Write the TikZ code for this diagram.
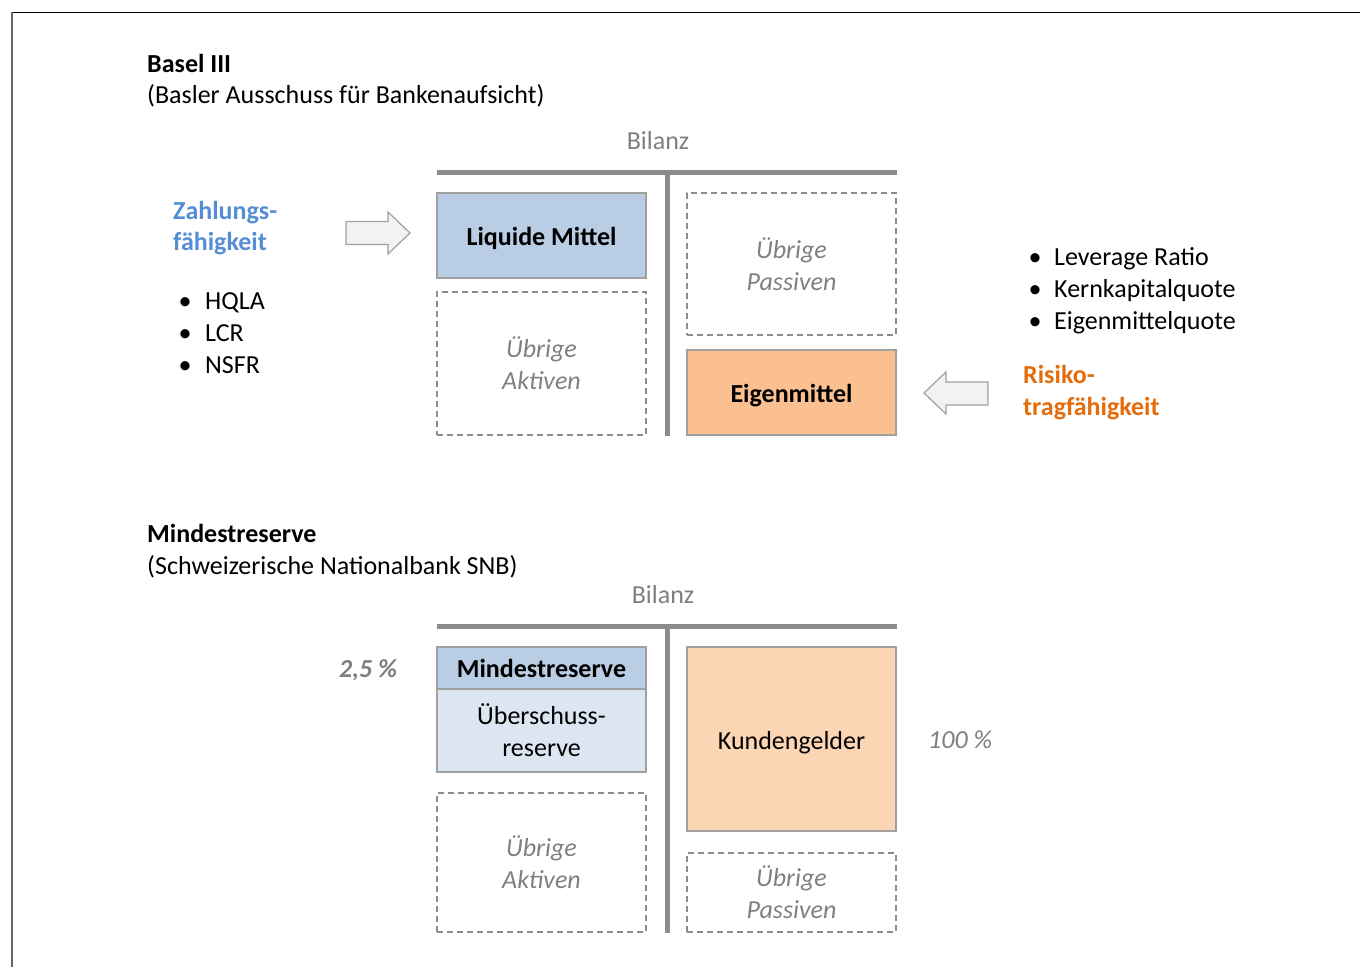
\documentclass[tikz,border=0pt]{standalone}
\usepackage{fontspec}
\setmainfont{Carlito}
\definecolor{bar}{HTML}{8C8C8C}
\definecolor{boxline}{HTML}{A0A0A0}
\definecolor{dash}{HTML}{8C8C8C}
\definecolor{lblue}{HTML}{B9CDE5}
\definecolor{llblue}{HTML}{DCE6F2}
\definecolor{lorange}{HTML}{FAC090}
\definecolor{llorange}{HTML}{FCD5B5}
\definecolor{zblue}{HTML}{558ED5}
\definecolor{zorange}{HTML}{E46C0A}
\definecolor{gtext}{HTML}{7F7F7F}
\definecolor{arrfill}{HTML}{F2F2F2}
\newcommand{\myfs}{\fontsize{26}{32}\selectfont}
\tikzset{
  txt/.style={font=\myfs, inner sep=0pt, anchor=base west},
  boldtxt/.style={txt, font=\myfs\bfseries},
  bartxt/.style={font=\myfs, text=gtext, inner sep=0pt, anchor=base},
  tbar/.style={draw=bar, line width=5pt},
  solidbox/.style={draw=boxline, line width=1.3pt, minimum width=209pt, inner sep=0pt, align=center, font=\myfs},
  oneline/.style={text height=22pt, text depth=2pt},
  dashbox/.style={draw=dash, line width=1.2pt, dash pattern=on 6pt off 4pt, minimum width=209pt, inner sep=0pt, align=center, text=gtext, font=\myfs\itshape},
  arrowshape/.style={draw=boxline, fill=arrfill, line width=1.2pt, line join=miter},
  bullet/.style={font=\myfs, inner sep=0pt, anchor=base},
}
\begin{document}
\begin{tikzpicture}[x=1pt,y=-1pt]
\useasboundingbox (0,0) rectangle (1360,967);
% frame
\draw[black, line width=1.6pt] (11,12.5) -- (1360,12.5);
\draw[black!60, line width=2.4pt] (12.2,12) -- (12.2,967);

% ===== Basel III =====
\node[boldtxt] (t1) at (147,72) {Basel III};
\node[txt] (t1b) at (147,103) {(Basler Ausschuss für Bankenaufsicht)};
\node[bartxt] (bil1) at (658,149) {Bilanz};
\coordinate (h1a) at (437,172);
\coordinate (h1b) at (897,172);
\coordinate (v1a) at (667,172);
\coordinate (v1b) at (667,436);
\draw[tbar] (h1a) -- (h1b);
\draw[tbar] (v1a) -- (v1b);

\node[solidbox, oneline, fill=lblue, minimum height=85pt, font=\myfs\bfseries] (lm) at (541.5,235.5) {Liquide Mittel};
\node[dashbox, minimum height=143pt] (ua1) at (541.5,363.5) {Übrige\\Aktiven};
\node[dashbox, minimum height=142pt] (up1) at (791.5,264) {Übrige\\Passiven};
\node[solidbox, oneline, fill=lorange, minimum height=85pt, font=\myfs\bfseries] (em) at (791.5,392.5) {Eigenmittel};

% arrows
\draw[arrowshape] (346,221.5) -- (388,221.5) -- (388,212) -- (410,233) -- (388,254) -- (388,244.5) -- (346,244.5) -- cycle;
\draw[arrowshape] (988,382) -- (946,382) -- (946,372) -- (924,393) -- (946,414) -- (946,405) -- (988,405) -- cycle;

\node[boldtxt, text=zblue] (z1) at (173,219) {Zahlungs-};
\node[boldtxt, text=zblue] (z2) at (173,250) {fähigkeit};
\node[bullet] (b1) at (185,309) {•};
\node[txt] (hq) at (205,309) {HQLA};
\node[bullet] (b2) at (185,341) {•};
\node[txt] (lcr) at (205,341) {LCR};
\node[bullet] (b3) at (185,373) {•};
\node[txt] (nsfr) at (205,373) {NSFR};

\node[bullet] (b4) at (1035,265) {•};
\node[txt] (lr) at (1054,265) {Leverage Ratio};
\node[bullet] (b5) at (1035,297) {•};
\node[txt] (kk) at (1054,297) {Kernkapitalquote};
\node[bullet] (b6) at (1035,329) {•};
\node[txt] (eq) at (1054,329) {Eigenmittelquote};

\node[boldtxt, text=zorange] (r1) at (1023,383) {Risiko-};
\node[boldtxt, text=zorange] (r2) at (1023,415) {tragfähigkeit};

% ===== Mindestreserve =====
\node[boldtxt] (t2) at (147,542) {Mindestreserve};
\node[txt] (t2b) at (147,574) {(Schweizerische Nationalbank SNB)};
\node[bartxt] (bil2) at (663,603) {Bilanz};
\coordinate (h2a) at (437,626);
\coordinate (h2b) at (897,626);
\coordinate (v2a) at (667,626);
\coordinate (v2b) at (667,933);
\draw[tbar] (h2a) -- (h2b);
\draw[tbar] (v2a) -- (v2b);

\node[solidbox, fill=lblue, minimum height=42pt, font=\myfs\bfseries] (mr) at (541.5,668) {\raisebox{-1pt}{Mindestreserve}};
\node[solidbox, fill=llblue, minimum height=83pt] (ur) at (541.5,730.5) {Überschuss-\\reserve};
\node[dashbox, minimum height=139pt] (ua2) at (541.5,862.5) {Übrige\\Aktiven};
\node[solidbox, oneline, fill=llorange, minimum height=184pt] (kg) at (791.5,739) {Kundengelder};
\node[dashbox, minimum height=79pt] (up2) at (791.5,892.5) {Übrige\\Passiven};

\node[txt, text=gtext, font=\myfs\bfseries\itshape] (p25) at (339,677) {2,5 \%};
\node[txt, text=gtext, font=\myfs\itshape] (p100) at (928,748) {100 \%};
\end{tikzpicture}
\end{document}
